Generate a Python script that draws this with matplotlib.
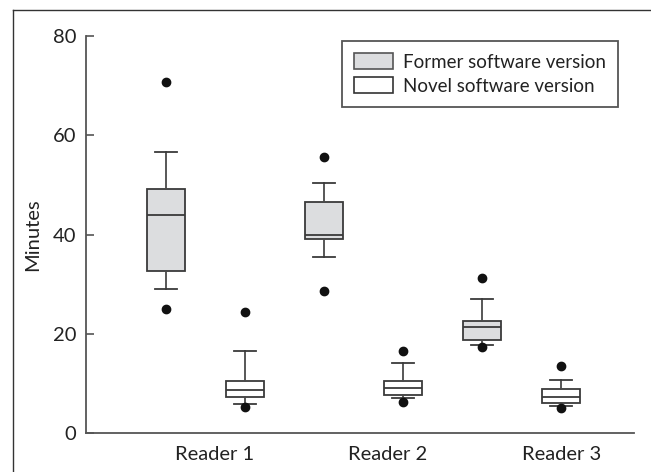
import matplotlib
matplotlib.use("Agg")
import matplotlib.pyplot as plt
from matplotlib import font_manager
from matplotlib.patches import Patch
from matplotlib.lines import Line2D

# ---------------- data ----------------
readers = ["Reader 1", "Reader 2", "Reader 3"]
series = ["Former software version", "Novel software version"]

former_whislo = [29.0, 35.5, 17.7]
former_q1     = [32.7, 39.0, 18.7]
former_med    = [44.0, 39.8, 21.4]
former_q3     = [49.1, 46.5, 22.6]
former_whishi = [56.6, 50.4, 27.0]
former_fliers = [[70.8, 25.0], [55.6, 28.6], [31.3, 17.3]]

novel_whislo = [5.8, 7.0, 5.5]
novel_q1     = [7.2, 7.6, 6.0]
novel_med    = [8.7, 9.1, 7.2]
novel_q3     = [10.4, 10.5, 8.8]
novel_whishi = [16.5, 14.2, 10.6]
novel_fliers = [[24.3, 5.2], [16.5, 6.3], [13.6, 5.0]]

yticks = [0, 20, 40, 60, 80]
ylabel = "Minutes"

# ---------------- font ----------------
avail = {f.name for f in font_manager.fontManager.ttflist}
fam = "DejaVu Sans"
for cand in ["Liberation Sans Narrow", "Lato", "Open Sans", "Liberation Sans"]:
    if cand in avail:
        fam = cand
        break
plt.rcParams["font.family"] = [fam, "DejaVu Sans"]

# ---------------- figure ----------------
fig = plt.figure(figsize=(6.51, 4.72), dpi=100)
ax = fig.add_axes([86/651, 1-433/472, 548/651, 397/472])

edge = "#3a3a3a"
fill_former = "#dcdddf"
fill_novel = "#ffffff"

def stats(wl, q1, med, q3, wh, fl):
    return [dict(whislo=a, q1=b, med=c, q3=d, whishi=e, fliers=f)
            for a, b, c, d, e, f in zip(wl, q1, med, q3, wh, fl)]

n = len(readers)
pos_former = [2*i for i in range(n)]
pos_novel = [2*i + 1 for i in range(n)]

common = dict(
    widths=0.48, patch_artist=True, showfliers=True,
    boxprops=dict(edgecolor=edge, linewidth=1.3),
    whiskerprops=dict(color="#4a4a4a", linewidth=1.3),
    capprops=dict(color=edge, linewidth=1.3),
    medianprops=dict(color=edge, linewidth=1.3),
    flierprops=dict(marker="o", markerfacecolor="#111111", markeredgecolor="#111111",
                    markersize=6, linestyle="none"),
    capwidths=0.28,
)
b1 = ax.bxp(stats(former_whislo, former_q1, former_med, former_q3, former_whishi, former_fliers),
            positions=pos_former, **common)
b2 = ax.bxp(stats(novel_whislo, novel_q1, novel_med, novel_q3, novel_whishi, novel_fliers),
            positions=pos_novel, **common)
for p in b1["boxes"]:
    p.set_facecolor(fill_former)
for p in b2["boxes"]:
    p.set_facecolor(fill_novel)

ax.set_xlim(-1.01, 5.92)
ax.set_ylim(0, 80)
ax.set_yticks(yticks)
ax.set_yticklabels([str(v) for v in yticks])
label_pos = [0.62 + 2.19*i for i in range(n)]
ax.set_xticks(label_pos)
ax.set_xticklabels(readers)
ax.tick_params(axis="x", length=0, pad=9, labelsize=14.5, labelcolor="#222222")
ax.tick_params(axis="y", direction="in", length=6, width=1.2, color="#555555",
               pad=7, labelsize=14.5, labelcolor="#222222")
for s in ["top", "right"]:
    ax.spines[s].set_visible(False)
for s in ["left", "bottom"]:
    ax.spines[s].set_color("#555555")
    ax.spines[s].set_linewidth(1.3)

ax.set_ylabel(ylabel, fontsize=14.5, color="#222222")
ax.yaxis.set_label_coords(-0.081, 0.5)

handles = [Patch(facecolor=fill_former, edgecolor="#555555", linewidth=1.2),
           Patch(facecolor=fill_novel, edgecolor="#333333", linewidth=1.2)]
leg = ax.legend(handles, series, loc="upper right", bbox_to_anchor=(0.9708, 0.9874),
                fontsize=13.5, frameon=True, fancybox=False, framealpha=1,
                edgecolor="#555555", handlelength=2.1, handleheight=0.95,
                handletextpad=0.5, labelspacing=0.35, borderpad=0.65, borderaxespad=0)
leg.get_frame().set_linewidth(1.3)
for t in leg.get_texts():
    t.set_color("#222222")

# outer frame (top and left lines)
fig.add_artist(Line2D([12.7/651, 1.0], [1-10/472, 1-10/472], color="#333333", linewidth=1.0,
                      transform=fig.transFigure))
fig.add_artist(Line2D([12.7/651, 12.7/651], [0, 1-10/472], color="#333333", linewidth=1.0,
                      transform=fig.transFigure))

fig.savefig("out.png", dpi=100)
